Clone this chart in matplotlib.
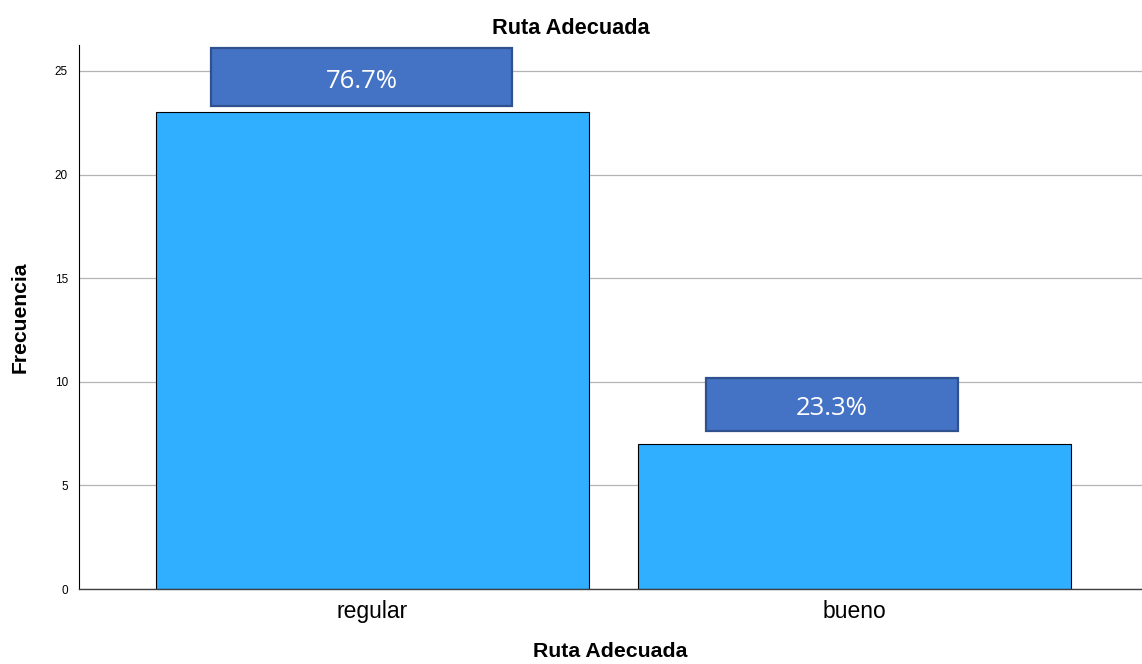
import matplotlib
matplotlib.use("Agg")
import matplotlib.pyplot as plt
from matplotlib.patches import Rectangle

# ---- data ----
categories = ["regular", "bueno"]
counts = [23, 7]
yticks = [0, 5, 10, 15, 20, 25]
title = "Ruta Adecuada"
xlabel = "Ruta Adecuada"
ylabel = "Frecuencia"

total = sum(counts)
pct_labels = [f"{100 * c / total:.1f}%" for c in counts]

# ---- style ----
bar_color = "#30AEFF"
box_face = "#4472C4"
box_edge = "#2F528F"
box_gap = [0.31, 0.63]      # gap above bar top (data units)
box_height = [2.8, 2.55]
box_width = [0.624, 0.523]
box_shift = [-0.023, -0.047]

fig = plt.figure(figsize=(11.42, 6.64), dpi=100)
ax = fig.add_axes([79 / 1142, 75 / 664, 1063 / 1142, 544 / 664])

x = list(range(len(categories)))
ax.bar(x, counts, width=0.898, color=bar_color, edgecolor="black",
       linewidth=0.8, zorder=2)

for xi, c, lab, g, h, w, s in zip(x, counts, pct_labels, box_gap,
                                  box_height, box_width, box_shift):
    rect = Rectangle((xi + s - w / 2, c + g), w, h, facecolor=box_face,
                     edgecolor=box_edge, linewidth=1.6, zorder=3)
    ax.add_patch(rect)
    ax.text(xi + s, c + g + h / 2 - 0.2, lab, ha="center", va="center",
            color="white", fontsize=18.5, family="Open Sans", zorder=4)

ax.set_xlim(-0.609, 1.596)
ax.set_ylim(0, 26.25)
ax.set_yticks(yticks)
ax.set_yticklabels([str(t) for t in yticks], fontsize=8.5, family="Liberation Sans")
ax.set_xticks(x)
ax.set_xticklabels(categories, fontsize=16.5, family="Liberation Sans")
ax.tick_params(axis="y", length=0, pad=8)
ax.tick_params(axis="x", length=0, pad=8)

ax.yaxis.grid(True, color="#B4B4B4", linewidth=0.9, zorder=0)
ax.set_axisbelow(True)

for side in ["top", "right"]:
    ax.spines[side].set_visible(False)
ax.spines["left"].set_color("black")
ax.spines["left"].set_linewidth(0.8)
ax.spines["bottom"].set_color("#404040")
ax.spines["bottom"].set_linewidth(1.0)

ax.set_title(title, fontsize=15.7, fontweight="bold", family="Liberation Sans",
             pad=8, x=(571 - 79) / 1063)
ax.set_xlabel(xlabel, fontsize=15.3, fontweight="bold", family="Liberation Sans")
ax.set_ylabel(ylabel, fontsize=15.2, fontweight="bold", family="Liberation Sans")
ax.xaxis.set_label_coords(0.5, -0.097)
ax.yaxis.set_label_coords(-0.046, 0.5)

fig.savefig("out.png", dpi=100)
